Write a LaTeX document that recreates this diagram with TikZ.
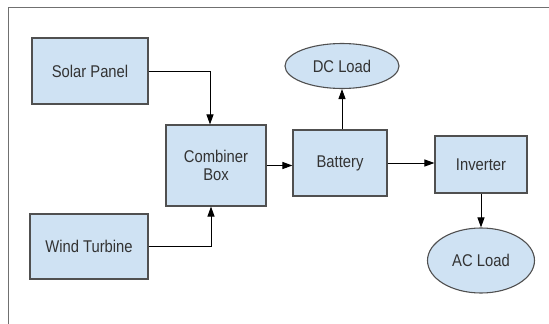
\documentclass[tikz,border=0pt]{standalone}
\usepackage{fontspec}
\setmainfont{Liberation Sans}
\usetikzlibrary{arrows.meta,shapes.geometric}
\definecolor{boxfill}{HTML}{CFE2F3}
\definecolor{boxline}{HTML}{505050}
\definecolor{txt}{HTML}{333333}
\definecolor{frameline}{HTML}{707070}
\newcommand{\sx}[1]{\scalebox{0.87}[1]{#1}}
\tikzset{
  blk/.style={draw=boxline, line width=1.1pt, fill=boxfill, text=txt, rectangle, inner sep=0pt,
    font=\fontsize{17pt}{18.5pt}\selectfont, align=center},
  ell/.style={draw=boxline, line width=1.1pt, fill=boxfill, text=txt, ellipse, inner sep=0pt,
    font=\fontsize{17pt}{18.5pt}\selectfont, align=center},
  conn/.style={draw=black, line width=1pt, -{Triangle[width=7pt,length=10pt]}},
}
\begin{document}
\begin{tikzpicture}[x=1pt,y=-1pt]
\useasboundingbox (0,0) rectangle (549,324);
\fill[white] (0,0) rectangle (549,324);
\draw[frameline, line width=1.5pt] (8.5,324) -- (8.5,7.5) -- (549,7.5);
\node[blk, minimum width=116pt, minimum height=66pt] (solar) at (90,71) {\sx{Solar Panel}};
\node[blk, minimum width=100pt, minimum height=81pt] (comb) at (216,165.5) {\sx{Combiner}\\\sx{Box}};
\node[blk, minimum width=118pt, minimum height=65pt] (wind) at (89,246.5) {\sx{Wind Turbine}};
\node[blk, minimum width=94pt, minimum height=66pt] (bat) at (340,163) {\sx{Battery}};
\node[blk, minimum width=92pt, minimum height=57pt] (inv) at (481,164.5) {\sx{Inverter}};
\node[ell, minimum width=114pt, minimum height=45pt] (dc) at (342,66) {\sx{DC Load}};
\node[ell, minimum width=107pt, minimum height=65pt] (ac) at (481,260.5) {\sx{AC Load}};
\coordinate (ct) at ([xshift=-6pt]comb.north);
\coordinate (cb) at ([xshift=-5pt]comb.south);
\draw[conn] (solar.east) -| (ct);
\draw[conn] (wind.east) -| (cb);
\draw[conn] (comb.east) -- (comb.east -| bat.west);
\draw[conn] (dc.south |- bat.north) -- (dc.south);
\draw[conn] (bat.east) -- (bat.east -| inv.west);
\draw[conn] (inv.south) -- (ac.north);
\end{tikzpicture}
\end{document}
